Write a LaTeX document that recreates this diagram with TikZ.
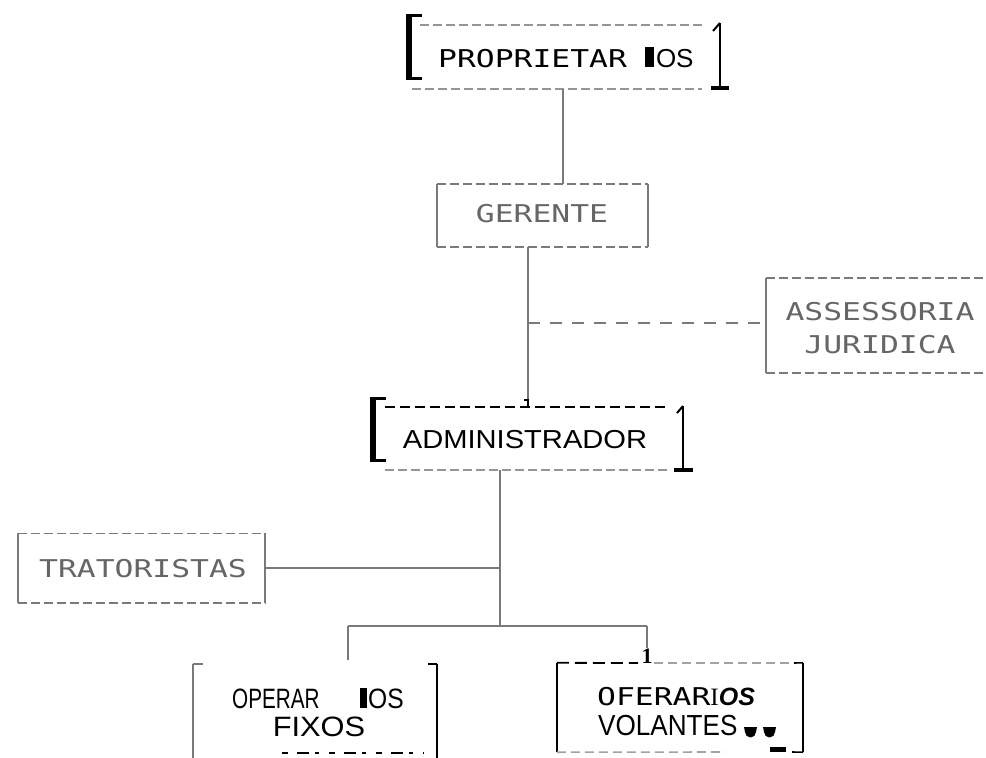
\documentclass[tikz,border=0pt]{standalone}
\usepackage{fontspec}
\usetikzlibrary{calc}
\setmainfont{Liberation Sans}
\newfontfamily\dmfont[FakeStretch=1.28]{DejaVu Sans Mono}
\newfontfamily\arfont{Liberation Sans}
\newfontfamily\tmfont{Liberation Serif}
\definecolor{scan}{HTML}{7A7A7A}
\definecolor{scantext}{HTML}{666666}
\begin{document}
\begin{tikzpicture}[x=1pt,y=-1pt,
  box/.style={draw=none, inner sep=0pt, minimum width=#1},
  solidedge/.style={draw=scan, line width=1.6pt},
  dashedge/.style={draw=scan, line width=1.6pt, dash pattern=on 9pt off 4pt},
  inkdash/.style={draw=black, line width=1.8pt, dash pattern=on 10pt off 5pt},
  ink/.style={draw=black, line width=1.6pt},
  wire/.style={draw=scan, line width=1.6pt},
  dmtext/.style={font=\dmfont\fontsize{24.5}{33}\selectfont, text=scantext, inner sep=0pt},
  artext/.style={font=\arfont\fontsize{25}{30}\selectfont, text=black, inner sep=0pt}
]
\useasboundingbox (0,0) rectangle (986,758);
\fill[white] (0,0) rectangle (986,758);

% ---------- box frames (named nodes) ----------
\node[box=290pt, minimum height=64pt] (prop) at (557,57) {};
\node[box=211pt, minimum height=63pt] (ger) at (542.5,215.5) {};
\node[box=230pt, minimum height=95pt] (ass) at (881,325.5) {};
\node[box=282pt, minimum height=63pt] (adm) at (526,438.5) {};
\node[box=247pt, minimum height=69pt] (tra) at (141.5,568) {};
\node[box=244pt, minimum height=96pt] (fix) at (315,712) {};
\node[box=246pt, minimum height=89pt] (vol) at (680,707.5) {};

% ---------- PROPRIETARIOS ----------
\draw[dashedge, draw=scan!80] ($(prop.north west)+(8,0)$) -- (prop.north east);
\draw[dashedge, draw=scan!80] (prop.south west) -- (prop.south east);
\draw[line width=6pt, line cap=butt] (408.5,14) -- (408.5,80);
\draw[line width=3.5pt] (406,15.5) -- (422,15.5);
\draw[line width=3.5pt] (406,78.5) -- (422,78.5);
\draw[line width=2pt] (720,23) -- (720,87);
\draw[line width=2pt] (713,31) -- (720,23);
\draw[line width=4.5pt] (711,88) -- (729,88);
\node[dmtext, text=black, anchor=base west] (propt) at (438,67)
  {PROPRIETAR\hspace{18pt}\rule{9pt}{20pt}\hspace{2pt}{\arfont\fontsize{26}{30}\selectfont OS}};

% ---------- GERENTE ----------
\draw[dashedge] (ger.north west) -- (ger.north east);
\draw[dashedge] (ger.south west) -- (ger.south east);
\draw[solidedge] (ger.north west) -- (ger.south west);
\draw[solidedge] (ger.north east) -- (ger.south east);
\node[dmtext] (gert) at (542,214) {GERENTE};

% ---------- ASSESSORIA JURIDICA ----------
\draw[dashedge] (ass.north west) -- (ass.north east);
\draw[dashedge] (ass.south west) -- (ass.south east);
\draw[solidedge] (ass.north west) -- (ass.south west);
\node[dmtext, align=center] (asst) at (880,328) {ASSESSORIA\\JURIDICA};

% ---------- ADMINISTRADOR ----------
\draw[inkdash] (adm.north west) -- (adm.north east);
\draw[dashedge, draw=scan!80] (adm.south west) -- (adm.south east);
\draw[line width=6pt] (373,397) -- (373,462);
\draw[line width=3.5pt] (370,398.5) -- (386,398.5);
\draw[line width=3.5pt] (370,460.5) -- (386,460.5);
\draw[line width=2pt] (683,406) -- (683,469);
\draw[line width=2pt] (677,413) -- (683,406);
\draw[line width=4.5pt] (674,470) -- (693,470);
\node[artext, font=\arfont\fontsize{26}{30}\selectfont] (admt) at (525,440) {\scalebox{1.12}[1]{ADMINISTRADOR}};

% ---------- TRATORISTAS ----------
\draw[dashedge] (tra.north west) -- (tra.north east);
\draw[dashedge] (tra.south west) -- (tra.south east);
\draw[solidedge] (tra.north west) -- (tra.south west);
\draw[solidedge] (tra.north east) -- (tra.south east);
\node[dmtext] (trat) at (143,569) {TRATORISTAS};

% ---------- OPERARIOS FIXOS ----------
\draw[solidedge] (fix.north west) -- (fix.south west);
\draw[solidedge] (fix.north west) -- ++(10,0);
\draw[ink] (fix.north east) -- (fix.south east);
\draw[ink] (fix.north east) -- ++(-9,0);
\draw[draw=black, line width=1.5pt, dash pattern=on 6pt off 9pt on 12pt off 6pt on 4pt off 10pt]
  (282,753) -- (424,753);
\node[artext, font=\arfont\fontsize{28}{30}\selectfont, anchor=base west] (fixa) at (232,708)
  {\scalebox{0.74}[1]{OPERAR}};
\node[inner sep=0pt, fill=black, minimum width=7pt, minimum height=20pt] (fixb) at (363.5,698) {};
\node[artext, font=\arfont\fontsize{28}{30}\selectfont, anchor=base west] (fixc) at (368,708) {\scalebox{0.88}[1]{OS}};
\node[artext, font=\arfont\fontsize{28}{30}\selectfont] (fixd) at (319,727)
  {\scalebox{1.1}[1]{FIXOS}};

% ---------- OPERARIOS VOLANTES ----------
\draw[draw=black, line width=1.8pt, dash pattern=on 12pt off 6pt] (vol.north west) -- (638,663);
\draw[draw=scan!70, line width=1.6pt, dash pattern=on 9pt off 5pt] (654,663) -- (792,663);
\draw[ink] (794,663) -- (vol.north east);
\draw[ink] (vol.north west) -- (vol.south west);
\draw[ink] (vol.north east) -- (vol.south east);
\draw[draw=scan!70, line width=1.6pt, dash pattern=on 9pt off 5pt] (vol.south west) -- (725,752);
\draw[ink] (792,752) -- (vol.south east);
\node[inner sep=0pt, font=\tmfont\bfseries\fontsize{22}{24}\selectfont, anchor=base] (one) at (647,663) {1};
\node[dmtext, text=black, anchor=base west] (vola) at (597,705)
  {OFERAR{\tmfont\fontsize{25}{30}\selectfont I}{\arfont\bfseries\itshape\fontsize{25}{30}\selectfont OS}};
\node[artext, font=\arfont\fontsize{29}{30}\selectfont, anchor=base west] (volb) at (598,735) {\scalebox{0.9}[1]{VOLANTES}};
\fill (744,727) -- (757,727) -- (756,732) arc (0:180:5.5) -- cycle;
\fill (763,727) -- (776,727) -- (775,732) arc (0:180:5.5) -- cycle;
\fill (770,747) rectangle (786,752);

% ---------- connectors ----------
\coordinate (cx1) at (563,0);
\coordinate (cx2) at (528,0);
\coordinate (cx3) at (500,0);
\coordinate (jass) at (528,323);
\coordinate (bus) at (500,626);
\coordinate (busl) at (348,626);
\coordinate (busr) at (647,626);
\draw[wire] (prop.south -| cx1) -- (ger.north -| cx1);
\draw[wire] (ger.south -| cx2) -- (adm.north -| cx2);
\draw[black, line width=1.5pt] (524,400) -- (528,400) -- (528,407);
\draw[draw=scan, line width=1.8pt, dash pattern=on 12pt off 10pt] (jass) -- (jass -| ass.west);
\draw[wire] (adm.south -| cx3) -- (bus);
\draw[wire] (tra.east) -- (tra.east -| cx3);
\draw[wire] (busl) -- (busr);
\draw[wire] (busl) -- (348,660);
\draw[wire] (busr) -- (one.north);
\end{tikzpicture}
\end{document}
